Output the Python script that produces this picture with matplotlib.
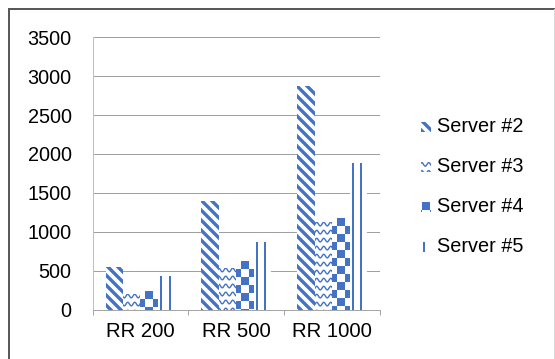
import numpy as np
import matplotlib
matplotlib.use("Agg")
import matplotlib.pyplot as plt
from matplotlib.transforms import IdentityTransform
from matplotlib.collections import LineCollection, PatchCollection
from matplotlib.patches import Rectangle
from matplotlib.lines import Line2D

# ---- data -------------------------------------------------------------
categories = ["RR 200", "RR 500", "RR 1000"]
series_names = ["Server #2", "Server #3", "Server #4", "Server #5"]
server2 = [545, 1400, 2870]
server3 = [205, 540, 1130]
server4 = [240, 630, 1180]
server5 = [430, 870, 1890]
y_ticks = [0, 500, 1000, 1500, 2000, 2500, 3000, 3500]

# ---- styling ----------------------------------------------------------
plt.rcParams["font.family"] = ["Liberation Sans", "DejaVu Sans"]
BLUE = "#4472C4"
W, H, DPI = 555, 359, 100
PX = 72.0 / DPI          # one pixel expressed in points
FS = 14.3

fig = plt.figure(figsize=(W / DPI, H / DPI), dpi=DPI)
fig.patch.set_facecolor("white")
ax = fig.add_axes([92.5 / W, 1 - 309.5 / H, (380 - 92.5) / W, (309.5 - 37.3) / H])


# ---- fill patterns (drawn in pixel space, clipped to a shape) ---------
def pat_wide_diag(x0, y0, x1, y1):
    step = 10.0
    cs = np.arange(np.floor((x0 + y0) / step) * step - step, x1 + y1 + step, step)
    segs = [[(x0 - 4, c - (x0 - 4)), (x1 + 4, c - (x1 + 4))] for c in cs]
    return [LineCollection(segs, colors=BLUE, linewidths=3.4 * PX, capstyle="butt")]


def pat_wave(x0, y0, x1, y1):
    step, period, amp = 8.0, 7.0, 1.8
    xs = np.arange(np.floor(x0 / period) * period - period, x1 + period, 0.25)
    segs = []
    for base in np.arange(y1 - 2.5, y0 - step, -step):
        ys = base + amp * np.sin(2 * np.pi * xs / period)
        segs.append(np.column_stack([xs, ys]))
    return [LineCollection(segs, colors=BLUE, linewidths=1.4 * PX)]


def pat_checker(x0, y0, x1, y1):
    sq = 8.0
    cx = (x0 + x1) / 2.0
    rects = []
    r = 0
    y = y1
    while y > y0 - sq:
        start = cx - sq / 2 if r % 2 == 0 else cx + sq / 2
        for xx in np.arange(start - 4 * sq, x1 + sq, 2 * sq):
            rects.append(Rectangle((xx, y - sq), sq, sq))
        y -= sq
        r += 1
    return [PatchCollection(rects, facecolor=BLUE, edgecolor="none")]


def pat_vlines(x0, y0, x1, y1):
    xs = np.arange(x0 + 3.3, x1, 8.4)
    segs = [[(xv, y0 - 2), (xv, y1 + 2)] for xv in xs]
    return [LineCollection(segs, colors=BLUE, linewidths=2.0 * PX, capstyle="butt")]


patterns = [pat_wide_diag, pat_wave, pat_checker, pat_vlines]


def add_pattern(container, clip_patch, pattern, zorder):
    bbox = clip_patch.get_window_extent()
    for art in pattern(bbox.x0, bbox.y0, bbox.x1, bbox.y1):
        art.set_transform(IdentityTransform())
        art.set_zorder(zorder)
        if container is fig:
            fig.add_artist(art)
        else:
            container.add_collection(art, autolim=False)
        # clip after adding, so the container does not replace the clip
        art.set_clip_path(clip_patch)


# ---- axes -------------------------------------------------------------
n_series = 4
gap = 1.5
bar_w = 1.0 / (n_series + gap)
x = np.arange(len(categories))
ax.set_xlim(-0.5, len(categories) - 0.5)
ax.set_ylim(0, 3500)

all_series = [server2, server3, server4, server5]
for j, (vals, pat) in enumerate(zip(all_series, patterns)):
    offs = (j - (n_series - 1) / 2) * bar_w
    bars = ax.bar(x + offs, vals, width=bar_w, facecolor="white",
                  edgecolor="none", zorder=2)
    for b in bars:
        add_pattern(ax, b, pat, 3)

ax.set_yticks(y_ticks)
ax.set_yticklabels([str(v) for v in y_ticks], fontsize=FS, color="#000000")
ax.set_xticks(x)
ax.set_xticklabels(categories, fontsize=FS + 0.4, color="#000000")
ax.set_xticks(np.arange(-0.5, len(categories), 1.0), minor=True)
ax.tick_params(axis="y", length=0, pad=15)
ax.tick_params(axis="x", which="major", length=0, pad=9)
ax.tick_params(axis="x", which="minor", length=3.6, width=1 * PX,
               color="#A6A6A6", direction="out")

ax.yaxis.grid(True, color="#A0A0A0", linewidth=1.0 * PX)
ax.set_axisbelow(True)
for side in ["top", "right"]:
    ax.spines[side].set_visible(False)
ax.spines["left"].set_color("#BFBFBF")
ax.spines["left"].set_linewidth(1.0 * PX)
ax.spines["bottom"].set_color("#A6A6A6")
ax.spines["bottom"].set_linewidth(1.0 * PX)

# ---- legend (drawn in pixel space) -------------------------------------
leg_y = [127.0, 166.9, 206.8, 246.7]
sw = 10.0
for name, pat, yc in zip(series_names, patterns, leg_y):
    ycd = H - yc
    swatch = Rectangle((421, ycd - sw / 2), sw, sw, facecolor="white",
                       edgecolor="none", transform=IdentityTransform())
    fig.add_artist(swatch)
    add_pattern(fig, swatch, pat, 3)
    fig.text(437 / W, ycd / H, name, fontsize=FS, ha="left", va="center",
             color="#000000")

# ---- chart frame ------------------------------------------------------
frame_l = Line2D([9 / W, 9 / W], [0, 1 - 9 / H], color="#595959",
                 linewidth=2 * PX, transform=fig.transFigure)
frame_t = Line2D([9 / W, 553.5 / W], [1 - 9 / H, 1 - 9 / H], color="#595959",
                 linewidth=2 * PX, transform=fig.transFigure)
frame_r = Line2D([553.5 / W, 553.5 / W], [0, 1 - 9 / H], color="#D9D9D9",
                 linewidth=1 * PX, transform=fig.transFigure)
for ln in (frame_l, frame_t, frame_r):
    fig.add_artist(ln)

fig.savefig("out.png", dpi=DPI, facecolor="white")
